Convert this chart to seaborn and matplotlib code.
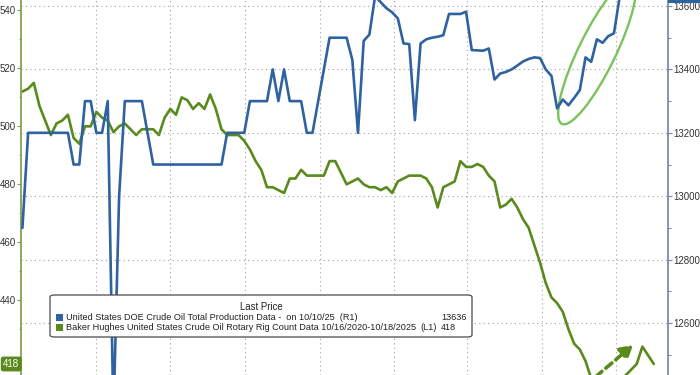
import matplotlib
matplotlib.use("Agg")
import matplotlib.pyplot as plt
from matplotlib.patches import Ellipse, FancyBboxPatch, Rectangle
from matplotlib.ticker import MultipleLocator
from matplotlib.transforms import IdentityTransform
import pandas as pd
import seaborn as sns

# ── Dados (semanal, sextas-feiras) ────────────────────────────────────────────
week_ending = pd.date_range("2023-09-01", "2025-10-17", freq="7D")

# Baker Hughes oil rigs (L1)
rig_count = [
    512, 513, 515, 507, 502, 497, 501, 502, 504, 496,
    494, 500, 500, 505, 503, 502, 498, 500, 501, 499,
    497, 499, 499, 499, 497, 503, 506, 504, 510, 509,
    506, 508, 506, 511, 506, 499, 497, 497, 497, 495,
    492, 488, 485, 479, 479, 478, 477, 482, 482, 485,
    483, 483, 483, 483, 488, 488, 484, 480, 481, 482,
    480, 479, 479, 478, 479, 477, 481, 482, 483, 483,
    483, 482, 479, 472, 479, 480, 481, 488, 486, 486,
    487, 486, 483, 481, 472, 473, 475, 472, 468, 465,
    459, 453, 446, 441, 439, 436, 430, 425, 423, 419,
    413, 411, 410, 411, 411, 412, 414, 416, 418, 424,
    421, 418,
]

# DOE crude oil production, kb/d (R1), last print 10/10/25
production = [
    12900, 13200, 13200, 13200, 13200, 13200, 13200, 13200, 13200, 13100,
    13100, 13300, 13300, 13200, 13200, 13300, 12300, 13000, 13300, 13300,
    13300, 13300, 13200, 13100, 13100, 13100, 13100, 13100, 13100, 13100,
    13100, 13100, 13100, 13100, 13100, 13100, 13200, 13200, 13200, 13200,
    13300, 13300, 13300, 13300, 13400, 13300, 13400, 13300, 13300, 13300,
    13200, 13200, 13300, 13400, 13500, 13500, 13500, 13500, 13430, 13200,
    13490, 13510, 13631, 13612, 13593, 13580, 13561, 13482, 13480, 13240,
    13482, 13495, 13500, 13503, 13508, 13575, 13575, 13575, 13582, 13461,
    13460, 13459, 13466, 13368, 13387, 13392, 13400, 13412, 13425, 13433,
    13438, 13436, 13400, 13380, 13277, 13305, 13287, 13310, 13335, 13438,
    13424, 13495, 13484, 13505, 13514, 13629, 13630, 13629, 13629, 13629,
    13636,
]

quarter_marks = pd.to_datetime([
    "2023-12-01", "2024-03-01", "2024-06-01", "2024-09-01",
    "2024-12-01", "2025-03-01", "2025-06-01", "2025-09-01",
])
rig_ticks = [440, 460, 480, 500, 520, 540]

legend_title = "Last Price"
prod_label = "United States DOE Crude Oil Total Production Data -  on 10/10/25  (R1)"
rig_label = "Baker Hughes United States Crude Oil Rotary Rig Count Data 10/16/2020-10/18/2025"

# ── Estilo ────────────────────────────────────────────────────────────────────
BLUE = "#2e62a0"
GREEN = "#5a8a1c"
RING = "#7cc25a"
TXT = "#333333"
GRID = dict(color="#a0a0a0", lw=0.8, ls=(0, (1, 3)))

sns.set_theme(style="white")
plt.rcParams["font.family"] = ["Liberation Sans", "DejaVu Sans"]

W, H = 700, 375
fig = plt.figure(figsize=(W / 100, H / 100), dpi=100)
ax = fig.add_axes([21 / W, 0, 647 / W, 1])
ax2 = ax.twinx()

rigs = pd.DataFrame({"date": week_ending, "rigs": rig_count})
prod = pd.DataFrame({"date": week_ending[:len(production)], "prod": production})
sns.lineplot(data=rigs, x="date", y="rigs", ax=ax, color=GREEN, lw=1.9)
sns.lineplot(data=prod, x="date", y="prod", ax=ax2, color=BLUE, lw=1.9)

start = week_ending[0]
ax.set_xlim(start - pd.Timedelta(days=1.75), start + pd.Timedelta(days=794.5))
ax.set_ylim(414.2, 543.6)
ax2.set_ylim(12436, 13619)

ax.set_yticks(rig_ticks)
ax.yaxis.set_minor_locator(MultipleLocator(10))
ax2.yaxis.set_major_locator(MultipleLocator(200))
ax2.yaxis.set_minor_locator(MultipleLocator(100))
ax.set_xticks(quarter_marks)

for a in (ax, ax2):
    a.set_xlabel("")
    a.set_ylabel("")
    a.spines["top"].set_visible(False)
    a.spines["bottom"].set_visible(False)
    a.tick_params(axis="x", length=0, labelbottom=False)
    a.tick_params(axis="y", which="major", direction="out", length=3,
                  width=0.8, labelsize=7.0, labelcolor=TXT, pad=0.6)
    a.tick_params(axis="y", which="minor", direction="out", length=1.8, width=0.7)

ax.spines["left"].set_color("#7f9f4a")
ax.spines["right"].set_visible(False)
ax2.spines["left"].set_visible(False)
ax2.spines["right"].set_color("#6f8aa6")
ax.tick_params(axis="y", which="both", color="#7f9f4a")
ax2.tick_params(axis="y", which="both", color="#6f8aa6")

ax.grid(False)
ax.grid(axis="x", **GRID)
ax2.grid(False)
ax2.grid(axis="y", **GRID)

# ── Rótulos do último valor ───────────────────────────────────────────────────
ax.annotate(str(rig_count[-1]), xy=(0, rig_count[-1]), xycoords=("axes fraction", "data"),
            xytext=(-1.2, 0), textcoords="offset points", ha="right", va="center",
            fontsize=7, color="white", annotation_clip=False, zorder=10,
            bbox=dict(boxstyle="round,pad=0.25", fc=GREEN, ec="none"))
ax2.annotate(str(production[-1]), xy=(1, production[-1]), xycoords=("axes fraction", "data"),
             xytext=(2, 0), textcoords="offset points", ha="left", va="center",
             fontsize=7.0, color="white", annotation_clip=False, zorder=10,
             bbox=dict(boxstyle="square,pad=0.3", fc=BLUE, ec="none"))

# ── Anotações (elipse + seta) ─────────────────────────────────────────────────
ring = Ellipse((597, H - 52), width=160, height=37, angle=64, fill=False,
               ec=RING, lw=1.7, transform=IdentityTransform())
ax2.add_patch(ring)
ax2.annotate("", xy=(633, H - 345), xycoords="figure pixels",
             xytext=(586, H - 385), textcoords="figure pixels",
             arrowprops=dict(arrowstyle="-|>,head_length=0.6,head_width=0.35",
                             ls=(0, (2.2, 1.4)), lw=2.6, color=GREEN,
                             shrinkA=0, shrinkB=0),
             annotation_clip=False)

# ── Legenda estilo Bloomberg ──────────────────────────────────────────────────
def fx(px):
    return px / W


def fy(py):
    return 1 - py / H


box = FancyBboxPatch((fx(50), fy(337)), fx(472) - fx(50), fy(295) - fy(337),
                     boxstyle="round,pad=0,rounding_size=0.006",
                     transform=fig.transFigure, fc="white", ec="#4a4a4a", lw=0.9, zorder=5)
fig.add_artist(box)
fig.text(fx(261), fy(306.5), legend_title, ha="center", va="center", fontsize=6.9, color="#222", zorder=6)
for row_y, colour, label, tag, value in [
    (317.3, BLUE, prod_label, "", str(production[-1])),
    (327.5, GREEN, rig_label, "(L1)", str(rig_count[-1])),
]:
    fig.add_artist(Rectangle((fx(56), fy(row_y + 3.5)), 7 / W, 7 / H, fc=colour, ec="none",
                             transform=fig.transFigure, zorder=6))
    fig.text(fx(66), fy(row_y), label, ha="left", va="center", fontsize=6.6, color="#222", zorder=6)
    if tag:
        fig.text(fx(420), fy(row_y), tag, ha="left", va="center", fontsize=6.6, color="#222", zorder=6)
    fig.text(fx(441), fy(row_y), value, ha="left", va="center", fontsize=6.6, color="#222", zorder=6)

fig.savefig("out.png", dpi=100)
